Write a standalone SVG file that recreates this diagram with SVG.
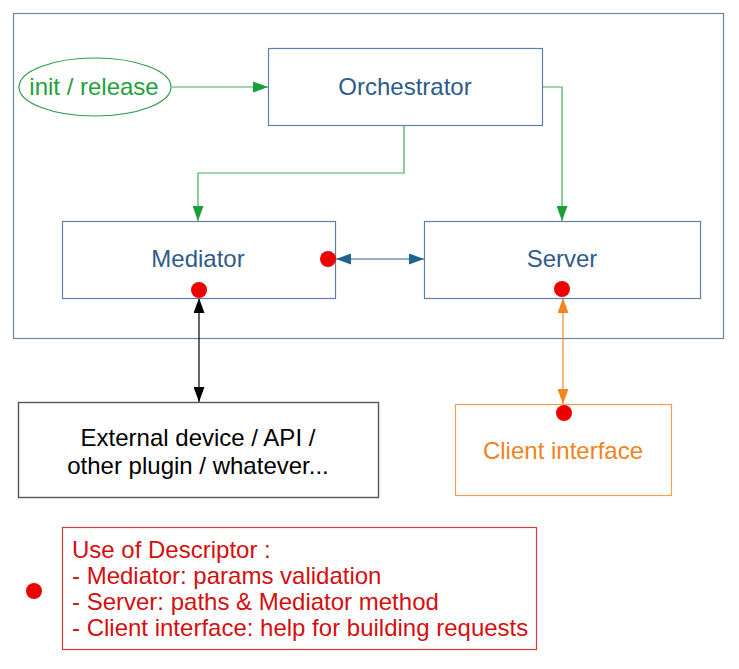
<svg xmlns="http://www.w3.org/2000/svg" width="739" height="669" viewBox="0 0 739 669">
<style>
text{font-family:"Liberation Sans",Arial,sans-serif;font-size:24px}
.box{fill:#fff;stroke:#5f7fa8;stroke-width:1.2}
.blue{fill:#2f5b8a}
.dot{fill:#ee0000}
</style>
<defs>
<marker id="ag" viewBox="0 0 15 11" refX="15" refY="5.5" markerWidth="15" markerHeight="11" markerUnits="userSpaceOnUse" orient="auto-start-reverse"><path d="M0,0L15,5.5L0,11Z" fill="#1a9e3a"/></marker>
<marker id="ab" viewBox="0 0 15 11" refX="15" refY="5.5" markerWidth="15" markerHeight="11" markerUnits="userSpaceOnUse" orient="auto-start-reverse"><path d="M0,0L15,5.5L0,11Z" fill="#1f6490"/></marker>
<marker id="ak" viewBox="0 0 15 11" refX="15" refY="5.5" markerWidth="15" markerHeight="11" markerUnits="userSpaceOnUse" orient="auto-start-reverse"><path d="M0,0L15,5.5L0,11Z" fill="#000"/></marker>
<marker id="ao" viewBox="0 0 15 11" refX="15" refY="5.5" markerWidth="15" markerHeight="11" markerUnits="userSpaceOnUse" orient="auto-start-reverse"><path d="M0,0L15,5.5L0,11Z" fill="#f5861f"/></marker>
</defs>
<rect width="739" height="669" fill="#fff"/>
<g id="frame"><rect x="13.5" y="13.5" width="710" height="325" fill="none" stroke="#6b83ad" stroke-width="1.2"/></g>
<g id="connectors" fill="none">
<path d="M172,87H268" stroke="#3cb054" stroke-width="1.2" marker-end="url(#ag)"/>
<path d="M404,125V173H198V221" stroke="#3cb054" stroke-width="1.2" marker-end="url(#ag)"/>
<path d="M542,87H562V221" stroke="#3cb054" stroke-width="1.2" marker-end="url(#ag)"/>
<path d="M336,259H424" stroke="#1f6490" stroke-width="1.2" marker-start="url(#ab)" marker-end="url(#ab)"/>
<path d="M199,298V402" stroke="#000" stroke-width="1.2" marker-start="url(#ak)" marker-end="url(#ak)"/>
<path d="M563,298V404" stroke="#f5861f" stroke-width="1.2" marker-start="url(#ao)" marker-end="url(#ao)"/>
</g>
<g id="init">
<ellipse cx="95" cy="87" rx="76" ry="29" fill="#fff" stroke="#2e9a48" stroke-width="1.2"/>
<text x="94" y="95" text-anchor="middle" fill="#1fa23c">init / release</text>
</g>
<g id="orchestrator">
<rect class="box" x="268.5" y="48.5" width="274" height="77"/>
<text class="blue" x="405" y="95" text-anchor="middle">Orchestrator</text>
</g>
<g id="mediator">
<rect class="box" x="62.5" y="221.5" width="273" height="77"/>
<text class="blue" x="198" y="267" text-anchor="middle">Mediator</text>
<circle class="dot" cx="328" cy="259" r="8"/>
<circle class="dot" cx="199" cy="290" r="8"/>
</g>
<g id="server">
<rect class="box" x="424.5" y="221.5" width="276" height="77"/>
<text class="blue" x="562" y="267" text-anchor="middle">Server</text>
<circle class="dot" cx="562" cy="289" r="8"/>
</g>
<g id="external">
<rect x="18.5" y="402.5" width="360" height="95" fill="#fff" stroke="#555" stroke-width="1.4"/>
<text x="198" y="446" text-anchor="middle" fill="#000">External device / API /</text>
<text x="198" y="474" text-anchor="middle" fill="#000">other plugin / whatever...</text>
</g>
<g id="client">
<rect x="455.5" y="404.5" width="216" height="91" fill="#fff" stroke="#f0a050" stroke-width="1.2"/>
<text x="563" y="459" text-anchor="middle" fill="#ef8420">Client interface</text>
<circle class="dot" cx="564" cy="413" r="8"/>
</g>
<g id="legend">
<circle class="dot" cx="34" cy="591" r="8"/>
<rect x="62.5" y="527.5" width="474" height="122" fill="#fff" stroke="#d83a3a" stroke-width="1.2"/>
<g fill="#d40f0f">
<text x="72" y="558">Use of Descriptor :</text>
<text x="72" y="584">- Mediator: params validation</text>
<text x="72" y="610">- Server: paths &amp; Mediator method</text>
<text x="72" y="636">- Client interface: help for building requests</text>
</g>
</g>
</svg>
